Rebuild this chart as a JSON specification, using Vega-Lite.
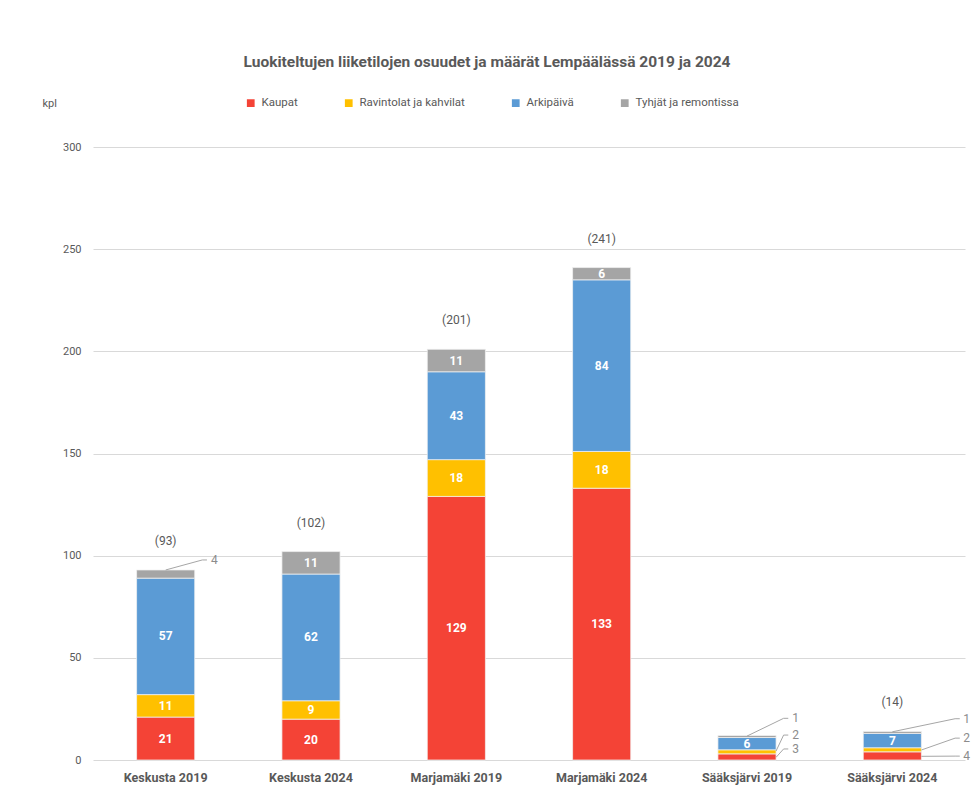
{
  "$schema": "https://vega.github.io/schema/vega-lite/v6.json",
  "width": 872,
  "height": 613,
  "autosize": {"type": "none"},
  "padding": {"left": 93, "top": 147, "right": 9, "bottom": 50},
  "background": "white",
  "config": {
    "font": "Roboto",
    "view": {"stroke": null}
  },
  "title": {
    "text": "Luokiteltujen liiketilojen osuudet ja määrät Lempäälässä 2019 ja 2024",
    "fontSize": 15.5,
    "fontWeight": "bold",
    "color": "#595959",
    "anchor": "middle",
    "dx": -42,
    "offset": 27
  },
  "datasets": {
    "main": [
      {"cat": "Keskusta 2019", "luokka": "Kaupat", "value": 21},
      {"cat": "Keskusta 2019", "luokka": "Ravintolat ja kahvilat", "value": 11},
      {"cat": "Keskusta 2019", "luokka": "Arkipäivä", "value": 57},
      {"cat": "Keskusta 2019", "luokka": "Tyhjät ja remontissa", "value": 4},
      {"cat": "Keskusta 2024", "luokka": "Kaupat", "value": 20},
      {"cat": "Keskusta 2024", "luokka": "Ravintolat ja kahvilat", "value": 9},
      {"cat": "Keskusta 2024", "luokka": "Arkipäivä", "value": 62},
      {"cat": "Keskusta 2024", "luokka": "Tyhjät ja remontissa", "value": 11},
      {"cat": "Marjamäki 2019", "luokka": "Kaupat", "value": 129},
      {"cat": "Marjamäki 2019", "luokka": "Ravintolat ja kahvilat", "value": 18},
      {"cat": "Marjamäki 2019", "luokka": "Arkipäivä", "value": 43},
      {"cat": "Marjamäki 2019", "luokka": "Tyhjät ja remontissa", "value": 11},
      {"cat": "Marjamäki 2024", "luokka": "Kaupat", "value": 133},
      {"cat": "Marjamäki 2024", "luokka": "Ravintolat ja kahvilat", "value": 18},
      {"cat": "Marjamäki 2024", "luokka": "Arkipäivä", "value": 84},
      {"cat": "Marjamäki 2024", "luokka": "Tyhjät ja remontissa", "value": 6},
      {"cat": "Sääksjärvi 2019", "luokka": "Kaupat", "value": 3},
      {"cat": "Sääksjärvi 2019", "luokka": "Ravintolat ja kahvilat", "value": 2},
      {"cat": "Sääksjärvi 2019", "luokka": "Arkipäivä", "value": 6},
      {"cat": "Sääksjärvi 2019", "luokka": "Tyhjät ja remontissa", "value": 1},
      {"cat": "Sääksjärvi 2024", "luokka": "Kaupat", "value": 4},
      {"cat": "Sääksjärvi 2024", "luokka": "Ravintolat ja kahvilat", "value": 2},
      {"cat": "Sääksjärvi 2024", "luokka": "Arkipäivä", "value": 7},
      {"cat": "Sääksjärvi 2024", "luokka": "Tyhjät ja remontissa", "value": 1}
    ],
    "leaders": [
      {"grp": "A", "cat": "Keskusta 2019", "v1": 93, "v2": 97.9},
      {"grp": "A", "cat": "Sääksjärvi 2019", "v1": 11.7, "v2": 20.4},
      {"grp": "B", "cat": "Sääksjärvi 2019", "v1": 4.4, "v2": 12.2},
      {"grp": "B", "cat": "Sääksjärvi 2019", "v1": 1.3, "v2": 5.4},
      {"grp": "C", "cat": "Sääksjärvi 2024", "v1": 13.8, "v2": 20.2},
      {"grp": "D", "cat": "Sääksjärvi 2024", "v1": 4.9, "v2": 10.7},
      {"grp": "D", "cat": "Sääksjärvi 2024", "v1": 1.8, "v2": 1.9},
      {"grp": "E", "cat": "Keskusta 2019", "v1": 97.9, "v2": 97.9},
      {"grp": "E", "cat": "Sääksjärvi 2019", "v1": 20.4, "v2": 20.4},
      {"grp": "E", "cat": "Sääksjärvi 2019", "v1": 12.2, "v2": 12.2},
      {"grp": "E", "cat": "Sääksjärvi 2019", "v1": 5.4, "v2": 5.4},
      {"grp": "F", "cat": "Sääksjärvi 2024", "v1": 20.2, "v2": 20.2},
      {"grp": "F", "cat": "Sääksjärvi 2024", "v1": 10.7, "v2": 10.7},
      {"grp": "F", "cat": "Sääksjärvi 2024", "v1": 1.9, "v2": 1.9}
    ],
    "leaderLabels": [
      {"grp": "G", "cat": "Keskusta 2019", "v": 97.9, "label": "4"},
      {"grp": "G", "cat": "Sääksjärvi 2019", "v": 20.4, "label": "1"},
      {"grp": "G", "cat": "Sääksjärvi 2019", "v": 12.2, "label": "2"},
      {"grp": "G", "cat": "Sääksjärvi 2019", "v": 5.4, "label": "3"},
      {"grp": "H", "cat": "Sääksjärvi 2024", "v": 20.2, "label": "1"},
      {"grp": "H", "cat": "Sääksjärvi 2024", "v": 10.7, "label": "2"},
      {"grp": "H", "cat": "Sääksjärvi 2024", "v": 1.9, "label": "4"}
    ]
  },
  "layer": [
    {
      "data": {"name": "main"},
      "transform": [
        {"calculate": "indexof(['Kaupat','Ravintolat ja kahvilat','Arkipäivä','Tyhjät ja remontissa'], datum.luokka)", "as": "ord"},
        {"stack": "value", "groupby": ["cat"], "sort": [{"field": "ord", "order": "ascending"}], "as": ["v0", "v1"]}
      ],
      "mark": {"type": "bar", "stroke": "#f2f2f2", "strokeWidth": 0.75},
      "encoding": {
        "x": {
          "field": "cat", "type": "nominal",
          "scale": {"domain": ["Keskusta 2019", "Keskusta 2024", "Marjamäki 2019", "Marjamäki 2024", "Sääksjärvi 2019", "Sääksjärvi 2024"], "paddingInner": 0.6, "paddingOuter": 0.3},
          "axis": {"title": null, "labelAngle": 0, "labelFontSize": 12.5, "labelFontWeight": "bold", "labelColor": "#595959", "domain": false, "ticks": false, "labelPadding": 11}
        },
        "y": {
          "field": "v1", "type": "quantitative",
          "scale": {"domain": [0, 300], "nice": false},
          "axis": {
            "values": [0, 50, 100, 150, 200, 250, 300],
            "title": "kpl", "titleAngle": 0, "titleX": -51, "titleY": -44, "titleAlign": "left", "titleBaseline": "middle",
            "titleFontSize": 11, "titleFontWeight": "normal", "titleColor": "#595959",
            "labelFontSize": 11, "labelColor": "#595959", "labelPadding": 12,
            "domain": false, "ticks": false, "gridColor": "#d9d9d9"
          }
        },
        "y2": {"field": "v0"},
        "color": {
          "field": "luokka", "type": "nominal",
          "scale": {"domain": ["Kaupat", "Ravintolat ja kahvilat", "Arkipäivä", "Tyhjät ja remontissa"], "range": ["#F44336", "#FFC000", "#5B9BD5", "#A5A5A5"]},
          "legend": {"orient": "none", "legendX": 152, "legendY": -50, "direction": "horizontal", "title": null, "symbolType": "square", "symbolSize": 60, "symbolStrokeWidth": 0, "labelFontSize": 11.5, "labelColor": "#595959", "columnPadding": 45, "labelOffset": 5}
        }
      }
    },
    {
      "data": {"name": "main"},
      "transform": [
        {"calculate": "indexof(['Kaupat','Ravintolat ja kahvilat','Arkipäivä','Tyhjät ja remontissa'], datum.luokka)", "as": "ord"},
        {"stack": "value", "groupby": ["cat"], "sort": [{"field": "ord", "order": "ascending"}], "as": ["v0", "v1"]},
        {"calculate": "(datum.v0 + datum.v1) / 2", "as": "mid"},
        {"filter": "datum.value >= 5"}
      ],
      "mark": {"type": "text", "color": "white", "fontWeight": "bold", "fontSize": 12, "baseline": "middle"},
      "encoding": {
        "x": {"field": "cat", "type": "nominal"},
        "y": {"field": "mid", "type": "quantitative"},
        "text": {"field": "value", "type": "quantitative"}
      }
    },
    {
      "data": {"name": "main"},
      "transform": [
        {"aggregate": [{"op": "sum", "field": "value", "as": "total"}], "groupby": ["cat"]},
        {"filter": "datum.cat != 'Sääksjärvi 2019'"},
        {"calculate": "'(' + datum.total + ')'", "as": "lab"}
      ],
      "mark": {"type": "text", "color": "#595959", "fontSize": 12, "baseline": "middle", "dy": -29},
      "encoding": {
        "x": {"field": "cat", "type": "nominal"},
        "y": {"field": "total", "type": "quantitative"},
        "text": {"field": "lab", "type": "nominal"}
      }
    },
    {
      "data": {"name": "leaders"},
      "transform": [{"filter": "datum.grp == 'A'"}],
      "mark": {"type": "rule", "color": "#a6a6a6", "strokeWidth": 1},
      "encoding": {
        "x": {"field": "cat", "type": "nominal", "bandPosition": 0.5},
        "x2": {"field": "cat", "bandPosition": 1.13},
        "y": {"field": "v1", "type": "quantitative"},
        "y2": {"field": "v2"}
      }
    },
    {
      "data": {"name": "leaders"},
      "transform": [{"filter": "datum.grp == 'B'"}],
      "mark": {"type": "rule", "color": "#a6a6a6", "strokeWidth": 1},
      "encoding": {
        "x": {"field": "cat", "type": "nominal", "bandPosition": 1.0},
        "x2": {"field": "cat", "bandPosition": 1.13},
        "y": {"field": "v1", "type": "quantitative"},
        "y2": {"field": "v2"}
      }
    },
    {
      "data": {"name": "leaders"},
      "transform": [{"filter": "datum.grp == 'C'"}],
      "mark": {"type": "rule", "color": "#a6a6a6", "strokeWidth": 1},
      "encoding": {
        "x": {"field": "cat", "type": "nominal", "bandPosition": 0.5},
        "x2": {"field": "cat", "bandPosition": 1.58},
        "y": {"field": "v1", "type": "quantitative"},
        "y2": {"field": "v2"}
      }
    },
    {
      "data": {"name": "leaders"},
      "transform": [{"filter": "datum.grp == 'D'"}],
      "mark": {"type": "rule", "color": "#a6a6a6", "strokeWidth": 1},
      "encoding": {
        "x": {"field": "cat", "type": "nominal", "bandPosition": 1.0},
        "x2": {"field": "cat", "bandPosition": 1.58},
        "y": {"field": "v1", "type": "quantitative"},
        "y2": {"field": "v2"}
      }
    },
    {
      "data": {"name": "leaders"},
      "transform": [{"filter": "datum.grp == 'E'"}],
      "mark": {"type": "rule", "color": "#a6a6a6", "strokeWidth": 1},
      "encoding": {
        "x": {"field": "cat", "type": "nominal", "bandPosition": 1.13},
        "x2": {"field": "cat", "bandPosition": 1.21},
        "y": {"field": "v1", "type": "quantitative"},
        "y2": {"field": "v2"}
      }
    },
    {
      "data": {"name": "leaders"},
      "transform": [{"filter": "datum.grp == 'F'"}],
      "mark": {"type": "rule", "color": "#a6a6a6", "strokeWidth": 1},
      "encoding": {
        "x": {"field": "cat", "type": "nominal", "bandPosition": 1.58},
        "x2": {"field": "cat", "bandPosition": 1.66},
        "y": {"field": "v1", "type": "quantitative"},
        "y2": {"field": "v2"}
      }
    },
    {
      "data": {"name": "leaderLabels"},
      "transform": [{"filter": "datum.grp == 'G'"}],
      "mark": {"type": "text", "color": "#8c8c8c", "fontSize": 12, "align": "left", "baseline": "middle"},
      "encoding": {
        "x": {"field": "cat", "type": "nominal", "bandPosition": 1.28},
        "y": {"field": "v", "type": "quantitative"},
        "text": {"field": "label", "type": "nominal"}
      }
    },
    {
      "data": {"name": "leaderLabels"},
      "transform": [{"filter": "datum.grp == 'H'"}],
      "mark": {"type": "text", "color": "#8c8c8c", "fontSize": 12, "align": "left", "baseline": "middle"},
      "encoding": {
        "x": {"field": "cat", "type": "nominal", "bandPosition": 1.72},
        "y": {"field": "v", "type": "quantitative"},
        "text": {"field": "label", "type": "nominal"}
      }
    }
  ]
}
